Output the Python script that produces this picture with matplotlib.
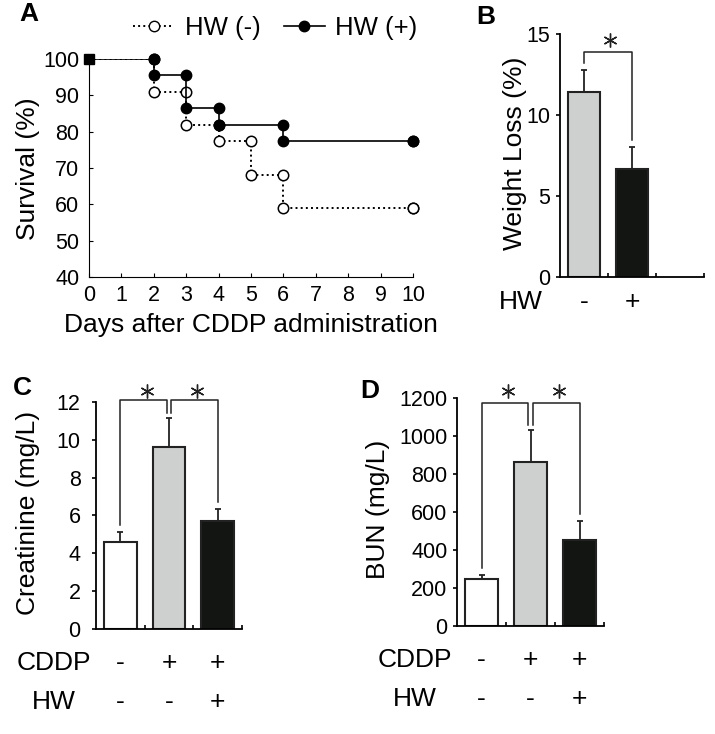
import matplotlib
matplotlib.use("Agg")
import matplotlib.pyplot as plt
from matplotlib.lines import Line2D

plt.rcParams['font.family'] = ['Liberation Sans', 'DejaVu Sans']
plt.rcParams['font.size'] = 15.5

# A: survival (step curves)
days_neg = [0, 2, 3, 4, 5, 6, 10]
surv_neg = [100, 90.9, 81.8, 77.3, 68.2, 59.1, 59.1]
days_pos = [0, 2, 3, 4, 6, 10]
surv_pos = [100, 95.5, 86.4, 81.8, 77.3, 77.3]

# B: weight loss
wl_groups = ['-', '+']
wl_mean = [11.4, 6.65]
wl_err = [1.4, 1.4]

# C / D: kidney markers
cddp_row = ['-', '+', '+']
hw_row = ['-', '-', '+']
crea_mean = [4.62, 9.63, 5.73]
crea_err = [0.5, 1.53, 0.6]
bun_mean = [246, 861, 454]
bun_err = [21, 172, 99]

bar_colors = ['white', '#cdd0cf', '#121512']
LBL = 19


def step_markers(x, y):
    px, py = [], []
    for i in range(1, len(x)):
        px += [x[i], x[i]]
        py += [y[i - 1], y[i]]
    return px, py


fig = plt.figure(figsize=(7.15, 7.34), dpi=100)

# ---------------- A ----------------
axA = fig.add_axes([0.1245, 0.6226, 0.453, 0.297])
axA.step(days_neg, surv_neg, where='post', color='black', ls=':', lw=1.4, zorder=2)
mx, my = step_markers(days_neg, surv_neg)
axA.plot(mx, my, 'o', ms=7.5, mfc='white', mec='black', mew=1.1, zorder=3, clip_on=False)
axA.step(days_pos, surv_pos, where='post', color='black', ls='-', lw=1.2, zorder=4)
mx, my = step_markers(days_pos, surv_pos)
axA.plot(mx, my, 'o', ms=7.5, mfc='black', mec='black', zorder=5, clip_on=False)
axA.plot([days_pos[0]], [surv_pos[0]], 's', ms=6.5, color='black', zorder=6, clip_on=False)
axA.set_xlim(0, 10)
axA.set_ylim(40, 100)
axA.set_xticks(range(0, 11))
axA.set_yticks(range(40, 101, 10))
axA.spines['top'].set_visible(False)
axA.spines['right'].set_visible(False)
axA.tick_params(direction='in', length=3, width=0.8, labelsize=15.5)
axA.tick_params(axis='x', pad=6)
axA.tick_params(axis='y', pad=7)
axA.text(0.5, -0.22, 'Days after CDDP administration', transform=axA.transAxes,
         ha='center', va='center', fontsize=LBL)
axA.text(-0.188, 0.495, 'Survival (%)', transform=axA.transAxes, rotation=90,
         ha='center', va='center', fontsize=LBL)

handles = [Line2D([], [], color='black', ls=':', lw=1.4, marker='o', ms=7.5,
                  mfc='white', mec='black'),
           Line2D([], [], color='black', ls='-', lw=1.2, marker='o', ms=7.5,
                  mfc='black', mec='black')]
fig.legend(handles, ['HW (-)', 'HW (+)'], loc='center', bbox_to_anchor=(0.385, 0.962),
           ncol=2, frameon=False, fontsize=18.5, handlelength=1.6,
           handletextpad=0.4, columnspacing=0.9)


def bar_panel(ax, means, errs, colors, ymax, yticks):
    x = list(range(len(means)))
    ax.bar(x, means, width=0.67, color=colors, edgecolor='#222222', linewidth=1.5, zorder=2)
    ax.errorbar(x, means, yerr=[[0] * len(errs), errs], fmt='none', ecolor='#222222',
                elinewidth=1.3, capsize=2.5, capthick=1.3, zorder=1)
    ax.set_xlim(-0.5, 2.5)
    ax.set_ylim(0, ymax)
    ax.set_yticks(yticks)
    ax.set_xticks([0.5, 1.5, 2.5])
    ax.set_xticklabels([])
    ax.spines['top'].set_visible(False)
    ax.spines['right'].set_visible(False)
    for s in ['left', 'bottom']:
        ax.spines[s].set_linewidth(1.3)
    ax.tick_params(axis='x', direction='in', length=3, width=1.2)
    ax.tick_params(axis='y', direction='out', length=3, width=1.2, labelsize=15.5, pad=4)


def bracket(ax, x0, x1, y0, ytop, y1):
    ax.plot([x0, x0, x1, x1], [y0, ytop, ytop, y1], color='#222222', lw=1.1,
            clip_on=False, zorder=3)


def star(ax, x, y):
    ax.plot([x], [y], marker=(6, 2, 0), ms=10, mew=1.0, color='#222222',
            clip_on=False, ls='none')


# ---------------- B ----------------
axB = fig.add_axes([0.7832, 0.6226, 0.2014, 0.331])
bar_panel(axB, wl_mean, wl_err, bar_colors[1:], 15, [0, 5, 10, 15])
gap = 0.028 * 15
top = 0.928 * 15
bracket(axB, 0, 1, wl_mean[0] + wl_err[0] + gap, top, wl_mean[1] + wl_err[1] + gap)
star(axB, 0.55, 0.977 * 15)
axB.text(-0.31, 0.51, 'Weight Loss (%)', transform=axB.transAxes, rotation=90,
         ha='center', va='center', fontsize=LBL)
axB.text(-0.27, -0.103, 'HW', transform=axB.transAxes, ha='center', va='center', fontsize=LBL)
for i, g in enumerate(wl_groups):
    axB.text(i, -0.103, g, transform=axB.get_xaxis_transform(), ha='center',
             va='center', fontsize=LBL)


def kidney_panel(ax, means, errs, ymax, yticks, ylabel, top_frac, star_frac, lab_x):
    bar_panel(ax, means, errs, bar_colors, ymax, yticks)
    gap = 0.032 * ymax
    top = top_frac * ymax
    bracket(ax, 0, 0.955, means[0] + errs[0] + gap, top, means[1] + errs[1] + 0.02 * ymax)
    bracket(ax, 1.045, 2, means[1] + errs[1] + 0.02 * ymax, top, means[2] + errs[2] + gap)
    star(ax, 0.54, star_frac * ymax)
    star(ax, 1.58, star_frac * ymax)
    ax.text(lab_x, 0.51, ylabel, transform=ax.transAxes, rotation=90,
            ha='center', va='center', fontsize=LBL)
    ax.text(-0.287, -0.15, 'CDDP', transform=ax.transAxes, ha='center', va='center', fontsize=LBL)
    ax.text(-0.287, -0.32, 'HW', transform=ax.transAxes, ha='center', va='center', fontsize=LBL)
    tr = ax.get_xaxis_transform()
    for i in range(3):
        ax.text(i, -0.15, cddp_row[i], transform=tr, ha='center', va='center', fontsize=LBL)
        ax.text(i, -0.32, hw_row[i], transform=tr, ha='center', va='center', fontsize=LBL)


# ---------------- C ----------------
axC = fig.add_axes([0.1343, 0.1431, 0.2042, 0.3093])
kidney_panel(axC, crea_mean, crea_err, 12, range(0, 13, 2), 'Creatinine (mg/L)',
             1.007, 1.05, -0.466)
axC.tick_params(axis='y', pad=8)

# ---------------- D ----------------
axD = fig.add_axes([0.6392, 0.1471, 0.2056, 0.3106])
kidney_panel(axD, bun_mean, bun_err, 1200, range(0, 1201, 200), 'BUN (mg/L)',
             0.98, 1.033, -0.537)

# panel letters
for lab, x, y in [('A', 29, 14), ('B', 486, 17), ('C', 22, 388), ('D', 370, 391)]:
    fig.text(x / 715, 1 - y / 734, lab, ha='center', va='center', fontsize=LBL,
             fontweight='bold')

fig.savefig('out.png', dpi=100)
